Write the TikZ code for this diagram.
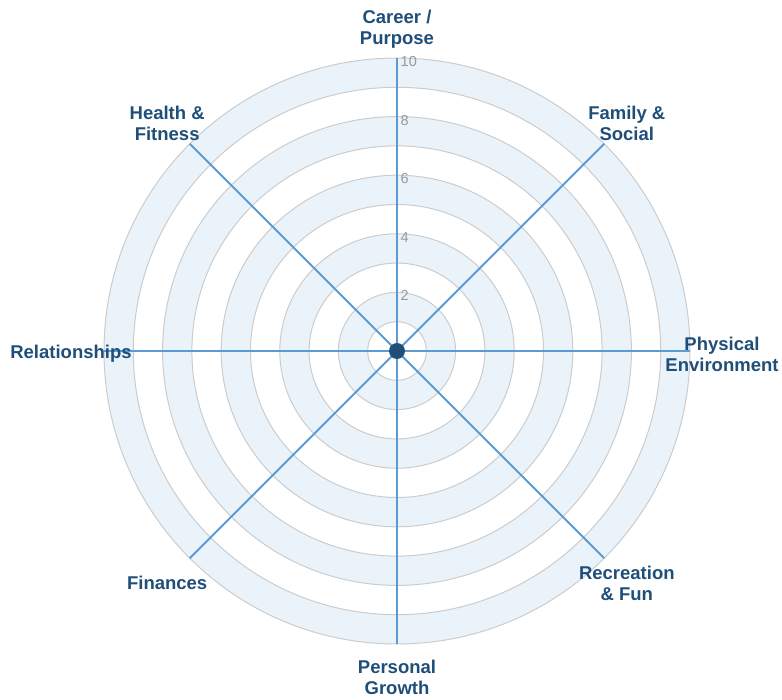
\documentclass[tikz,border=0pt]{standalone}
\usepackage{fontspec}
\setmainfont{Liberation Sans}
\usetikzlibrary{calc}
\definecolor{navy}{HTML}{1F4E79}
\definecolor{spokeblue}{HTML}{5B9BD5}
\definecolor{bandfill}{HTML}{EAF2FA}
\definecolor{ringline}{HTML}{CCCCCC}
\definecolor{numgray}{HTML}{999999}
\begin{document}
\begin{tikzpicture}[x=1pt,y=1pt,
  ring/.style={draw=ringline,line width=1pt},
  spokeline/.style={draw=spokeblue,line width=2pt},
  hubdot/.style={circle,fill=navy,minimum size=16pt,inner sep=0pt},
  axislabel/.style={text=navy,font=\fontsize{18.5}{21}\selectfont\bfseries,align=center,inner sep=0pt},
  numlabel/.style={text=numgray,font=\fontsize{14.5}{17}\selectfont,anchor=base west,inner sep=0pt}]
\useasboundingbox (-397,-348) rectangle (385,351);
\def\u{29.3}
% bands
\foreach \k in {1,3,5,7,9}{
  \fill[bandfill,even odd rule] (0,0) circle ({(\k+1)*\u}) (0,0) circle ({\k*\u});
}
\foreach \k in {1,...,10}{
  \draw[ring] (0,0) circle ({\k*\u});
}
% spokes
\coordinate (c) at (0,0);
\foreach \a [count=\i] in {90,45,0,-45,-90,-135,180,135}{
  \coordinate (e\i) at (\a:{10*\u});
  \draw[spokeline] (c) -- (e\i);
}
% scale numbers
\foreach \k in {2,4,6,8,10}{
  \node[numlabel] (n\k) at (3.5,{\k*\u-8.5}) {\k};
}
\node[hubdot] (hub) at (c) {};
% axis labels
\node[axislabel] (career) at ($(90:325)+(0,-3)$) {Career /\\Purpose};
\node[axislabel] (family) at ($(45:325)+(0,-2)$) {Family \&\\Social};
\node[axislabel] (physical) at ($(0:325)+(0,-3)$) {Physical\\Environment};
\node[axislabel] (recreation) at ($(-45:325)+(0,-3)$) {Recreation\\\& Fun};
\node[axislabel] (personal) at (-90:326) {Personal\\Growth};
\node[axislabel] (finances) at ($(-135:325)+(0,-2)$) {Finances};
\node[axislabel] (relationships) at ($(180:326)+(0,-3)$) {Relationships};
\node[axislabel] (health) at ($(135:325)+(0,-2)$) {Health \&\\Fitness};
\end{tikzpicture}
\end{document}
